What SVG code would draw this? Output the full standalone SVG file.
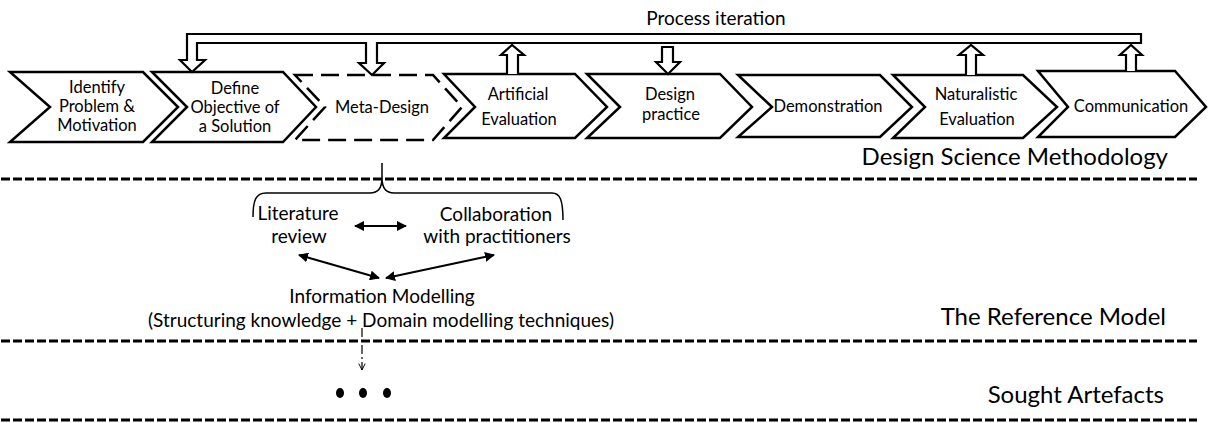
<svg xmlns="http://www.w3.org/2000/svg" width="1208" height="423" viewBox="0 0 1208 423">
<style>
.chev{fill:#fff;stroke:#000;stroke-width:2.5;stroke-linejoin:miter}
.dash{stroke-dasharray:18 8}
.t{font-family:Lato,"Liberation Sans",sans-serif;fill:#000;text-anchor:middle}
.s16{font-size:16.5px}
.s19{font-size:19px}
.big{font-family:Lato,"Liberation Sans",sans-serif;font-size:24px;fill:#000;text-anchor:end}
.sep{stroke:#000;stroke-width:3;stroke-dasharray:9 3;fill:none}
.blk{fill:#fff;stroke:#000;stroke-width:2.2;stroke-linejoin:miter}
.thin{stroke:#000;stroke-width:2;fill:none}
</style>
<defs>
<marker id="ah" viewBox="0 0 10 10" refX="9" refY="5" markerWidth="5" markerHeight="5" orient="auto-start-reverse" markerUnits="strokeWidth">
<path d="M0,0 L10,5 L0,10 Z" fill="#000"/>
</marker>
<marker id="open" viewBox="0 0 10 10" refX="9" refY="5" markerWidth="8" markerHeight="8" orient="auto" markerUnits="userSpaceOnUse">
<path d="M1,1 L9,5 L1,9" fill="none" stroke="#000" stroke-width="1.2"/>
</marker>
</defs>

<g id="separators">
<line class="sep" x1="1" y1="179" x2="1197" y2="179"/>
<line class="sep" x1="1" y1="341" x2="1197" y2="341"/>
<line class="sep" x1="1" y1="420" x2="1197" y2="420"/>
</g>

<g id="n1"><polygon class="chev" points="10,72 143,72 178,107 143,142 10,142 50,107"/>
<text class="t s16" x="97" y="93">Identify</text><text class="t s16" x="97" y="112">Problem &amp;</text><text class="t s16" x="97" y="131">Motivation</text></g>
<g id="n2"><polygon class="chev" points="152,72 283,72 316,107 283,142 152,142 187,107"/>
<text class="t s16" x="235" y="94">Define</text><text class="t s16" x="235" y="113">Objective of</text><text class="t s16" x="235" y="132">a Solution</text></g>
<g id="n3"><polygon class="chev dash" points="295,75 433,75 462,107 433,140 295,140 325,107"/>
<text class="t s16" x="382" y="113">Meta-Design</text></g>
<g id="n4"><polygon class="chev" points="444,74 575,74 607,107 575,138 444,138 475,107"/>
<text class="t s16" x="518" y="100">Artificial</text><text class="t s16" x="519" y="125">Evaluation</text></g>
<g id="n5"><polygon class="chev" points="587,74 720,74 752,107 720,138 587,138 620,107"/>
<text class="t s16" x="670" y="100">Design</text><text class="t s16" x="671" y="120">practice</text></g>
<g id="n6"><polygon class="chev" points="738,75 880,75 912,107 880,137 738,137 772,107"/>
<text class="t s16" x="828" y="112">Demonstration</text></g>
<g id="n7"><polygon class="chev" points="893,75 1023,75 1057,107 1023,138 893,138 925,107"/>
<text class="t s16" x="976" y="100">Naturalistic</text><text class="t s16" x="977" y="125">Evaluation</text></g>
<g id="n8"><polygon class="chev" points="1038,71 1175,71 1206,107 1175,137 1038,137 1068,107"/>
<text class="t s16" x="1131" y="112">Communication</text></g>

<g id="connectors">
<path class="blk" d="M187,34 H1141 V43 H377 V63 H384 L372,75 L359,63 H366 V43 H197 V60 H205 L192,72 L180,60 H187 Z"/>
<path class="blk" d="M662,47 H673 V62 H680 L668,74 L656,62 H662 Z"/>
<path class="blk" d="M507,74 V55 H501 L512,45 L524,55 H518 V74"/>
<path class="blk" d="M966,75 V55 H959 L971,45 L983,55 H976 V75"/>
<path class="blk" d="M1126,71 V55 H1120 L1131,45 L1142,55 H1136 V71"/>
<path class="thin" style="stroke-width:1.5" d="M253,217 C253,200 256,193 266,193 L370,193 C378,193 382,188 382,178 L382,163 M382,178 C382,188 386,193 394,193 L552,193 C560,193 563,200 563,220"/>
<line class="thin" x1="355" y1="226" x2="406" y2="226" marker-start="url(#ah)" marker-end="url(#ah)"/>
<line class="thin" x1="299" y1="255" x2="379" y2="278" marker-start="url(#ah)" marker-end="url(#ah)"/>
<line class="thin" x1="494" y1="255" x2="386" y2="278" marker-start="url(#ah)" marker-end="url(#ah)"/>
<line x1="362" y1="328" x2="362" y2="370" stroke="#000" stroke-width="1.2" stroke-dasharray="9 3 2 3" marker-end="url(#open)"/>
</g>

<text class="t" style="font-size:19px" x="716" y="25">Process iteration</text>
<text class="big" x="1168" y="165">Design Science Methodology</text>
<text class="big" x="1166" y="325">The Reference Model</text>
<text class="big" x="1164" y="403">Sought Artefacts</text>

<g id="lit"><text class="t s19" x="298" y="220">Literature</text><text class="t s19" x="299" y="243">review</text></g>
<g id="collab"><text class="t s19" x="496" y="221">Collaboration</text><text class="t s19" x="497" y="243">with practitioners</text></g>
<g id="info"><text class="t s19" x="382" y="303">Information Modelling</text><text class="t s19" x="381" y="327">(Structuring knowledge + Domain modelling techniques)</text></g>
<g id="dots" fill="#000"><ellipse cx="340" cy="393" rx="4" ry="5"/><ellipse cx="363" cy="393" rx="4" ry="5"/><ellipse cx="387" cy="393" rx="4" ry="5"/></g>
</svg>
